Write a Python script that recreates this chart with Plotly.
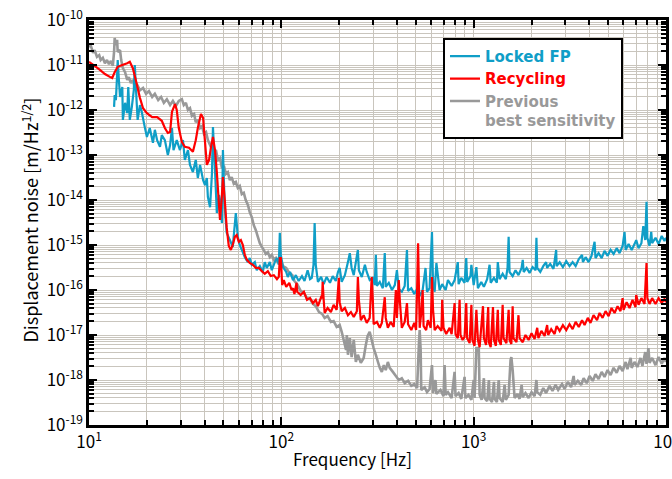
import numpy as np
import plotly.graph_objects as go

# ---------------- data (frequency in Hz, amplitude given as log10 of m/Hz^1/2) ----------------
locked_fp_freq = [13.5, 13.6, 13.8, 14.0, 14.1, 14.3, 14.5, 14.9, 15.0, 15.4, 15.8, 16.0, 16.3, 16.7, 17.1, 17.3,
                  17.7, 17.9, 18.4, 18.8, 19.5, 20.0, 20.7, 21.5, 22.0, 22.6, 23.4, 23.9, 24.8, 25.7, 26.4, 27.0,
                  27.5, 28.6, 29.7, 30.8, 31.5, 32.7, 33.5, 34.7, 35.9, 36.8, 37.8, 39.2, 40.1, 41.0, 41.5, 42.6,
                  43.6, 44.1, 45.2, 46.2, 47.4, 48.0, 49.1, 49.7, 50.8, 52.0, 54.0, 55.9, 58.0, 59.4, 60.8, 62.3,
                  64.6, 67.0, 68.5, 70.2, 72.8, 74.5, 77.3, 80.1, 82.0, 84.0, 87.1, 89.2, 92.5, 94.9, 97.0, 98.2,
                  99.4, 102, 106, 108, 111, 115, 119, 123, 128, 132, 137, 141, 144, 147, 149, 151, 155, 161, 166,
                  172, 179, 185, 192, 197, 201, 206, 214, 222, 227, 232, 238, 244, 250, 253, 262, 272, 278, 288,
                  299, 306, 310, 314, 325, 337, 345, 349, 362, 376, 389, 399, 408, 423, 438, 450, 456, 474, 491,
                  508, 524, 543, 562, 572, 590, 607, 615, 627, 640, 665, 686, 715, 735, 768, 796, 827, 835, 862,
                  897, 915, 925, 962, 973, 1000, 1033, 1052, 1095, 1130, 1175, 1210, 1226, 1275, 1320, 1335, 1364,
                  1415, 1470, 1500, 1520, 1537, 1595, 1650, 1710, 1775, 1800, 1820, 1885, 1953, 2025, 2100, 2120,
                  2140, 2220, 2300, 2380, 2410, 2500, 2600, 2685, 2700, 2800, 2910, 3030, 3150, 3270, 3390, 3520,
                  3660, 3700, 3820, 3960, 4100, 4253, 4300, 4460, 4630, 4790, 4970, 5150, 5340, 5540, 5735, 5950,
                  6089, 6170, 6390, 6630, 6860, 7000, 7200, 7450, 7620, 7800, 7920, 8000, 8211, 8380, 8470, 8820,
                  9150, 9500, 9820, 10000]
locked_fp_log = [-11.93, -11.67, -11.78, -11.22, -10.89, -11.33, -11.71, -11.49, -12.22, -11.84, -12.07, -11.49,
                 -12.22, -11.93, -11.56, -11.00, -11.84, -12.22, -11.89, -12.04, -12.38, -12.60, -12.40, -12.73,
                 -12.44, -12.67, -12.82, -12.56, -12.67, -13.00, -12.78, -12.40, -12.89, -12.67, -12.89, -12.67,
                 -13.11, -12.89, -13.22, -13.38, -13.11, -13.51, -13.22, -13.56, -13.67, -13.51, -13.93, -14.16,
                 -13.40, -12.38, -13.33, -14.29, -13.89, -14.00, -14.51, -12.89, -14.16, -14.73, -14.89, -15.04,
                 -14.29, -14.82, -15.00, -15.11, -15.27, -15.38, -15.29, -15.44, -15.38, -15.56, -15.47, -15.60,
                 -15.38, -15.51, -15.38, -15.56, -15.38, -15.29, -15.44, -14.73, -15.22, -15.49, -15.60, -15.71,
                 -15.60, -15.78, -15.67, -15.80, -15.69, -15.80, -15.56, -15.76, -15.73, -15.44, -14.51, -15.44,
                 -15.82, -15.71, -15.87, -15.71, -15.84, -15.69, -15.80, -15.60, -15.51, -15.82, -15.67, -15.38,
                 -15.18, -15.51, -15.67, -15.38, -15.11, -15.56, -15.71, -15.44, -15.60, -15.78, -15.73, -15.89,
                 -15.22, -15.91, -15.82, -15.96, -15.18, -15.93, -15.84, -16.00, -15.89, -15.56, -15.98, -16.04,
                 -15.91, -15.11, -16.02, -15.96, -16.09, -15.98, -16.13, -16.00, -15.51, -16.04, -15.96, -14.71,
                 -15.89, -16.04, -15.40, -16.00, -15.87, -16.00, -15.78, -15.91, -15.78, -15.38, -15.87, -15.73,
                 -15.84, -15.29, -15.82, -15.69, -15.44, -15.89, -15.49, -15.96, -15.82, -15.93, -15.76, -15.44,
                 -15.84, -15.73, -15.84, -15.38, -15.76, -15.64, -15.76, -15.51, -14.82, -15.60, -15.69, -15.56,
                 -15.67, -15.51, -15.33, -15.60, -15.51, -15.62, -15.49, -15.56, -14.84, -15.51, -15.60, -15.47,
                 -15.38, -15.51, -15.42, -15.53, -15.11, -15.47, -15.38, -15.49, -15.36, -15.47, -15.38, -15.47,
                 -15.31, -15.22, -15.38, -15.27, -15.38, -15.24, -14.93, -15.29, -15.18, -15.29, -15.13, -15.24,
                 -15.11, -15.20, -15.07, -15.18, -15.02, -14.71, -15.11, -14.98, -15.11, -14.98, -14.89, -15.07,
                 -14.96, -14.58, -14.89, -14.04, -14.84, -15.02, -14.71, -14.96, -14.84, -14.98, -14.80, -14.91,
                 -14.84]

recycling_freq = [10, 10.7, 11.4, 12.1, 12.9, 13.2, 13.6, 14.1, 14.9, 15.8, 16.3, 16.9, 17.5, 18.4, 19.1, 20.0,
                  21.3, 22.6, 23.9, 24.8, 25.7, 26.4, 27.0, 28.0, 28.6, 29.3, 30.4, 31.5, 33.1, 34.7, 35.9, 36.8,
                  38.2, 39.2, 40.1, 41.0, 42.1, 43.1, 44.1, 45.2, 46.2, 47.4, 48.0, 49.1, 49.7, 50.8, 52.0, 53.3,
                  54.6, 55.9, 57.3, 58.6, 60.1, 61.6, 63.1, 64.6, 66.2, 68.5, 71.1, 73.7, 76.4, 79.2, 82.0, 85.1,
                  88.1, 91.4, 94.9, 97.0, 98.2, 99.4, 101, 103, 106, 110, 113, 115, 117, 120, 121, 126, 131, 136,
                  141, 146, 151, 155, 161, 163, 164, 166, 168, 174, 181, 187, 194, 199, 201, 206, 214, 222, 230,
                  238, 247, 250, 253, 259, 268, 278, 288, 295, 299, 302, 314, 325, 333, 345, 349, 358, 370, 384,
                  394, 399, 408, 413, 423, 438, 450, 456, 474, 491, 502, 508, 514, 519, 524, 534, 543, 549, 566,
                  578, 598, 607, 615, 627, 650, 680, 686, 697, 720, 750, 768, 796, 805, 827, 845, 854, 876, 897,
                  915, 925, 953, 973, 985, 1011, 1033, 1052, 1074, 1118, 1130, 1160, 1190, 1200, 1226, 1260, 1275,
                  1305, 1335, 1350, 1385, 1415, 1430, 1480, 1520, 1537, 1570, 1595, 1610, 1670, 1710, 1733, 1800,
                  1860, 1930, 2000, 2074, 2140, 2170, 2250, 2338, 2410, 2440, 2530, 2635, 2700, 2800, 2910, 3030,
                  3150, 3270, 3390, 3520, 3660, 3773, 3920, 4050, 4200, 4380, 4515, 4680, 4850, 5030, 5210, 5402,
                  5600, 5800, 5950, 6020, 6240, 6464, 6700, 6940, 7000, 7200, 7450, 7734, 7920, 8000, 8211, 8470,
                  8820, 9150, 9500, 9820, 10000]
recycling_log = [-10.93, -11.02, -11.11, -11.20, -11.27, -11.29, -11.16, -11.04, -11.00, -10.96, -10.93, -11.07,
                 -11.33, -11.73, -11.96, -12.07, -12.16, -12.16, -12.24, -12.40, -12.51, -12.49, -12.04, -11.87,
                 -12.00, -12.40, -12.71, -12.82, -12.84, -12.93, -12.67, -12.40, -12.09, -12.18, -12.71, -13.22,
                 -13.11, -12.82, -12.60, -12.89, -13.38, -14.11, -14.44, -13.89, -13.49, -14.00, -14.62, -15.02,
                 -15.11, -15.00, -14.82, -14.78, -14.93, -14.89, -15.00, -15.22, -15.33, -15.40, -15.44, -15.51,
                 -15.51, -15.58, -15.64, -15.58, -15.69, -15.67, -15.76, -15.71, -15.29, -15.29, -15.89, -15.78,
                 -15.93, -15.84, -16.00, -15.96, -16.09, -15.84, -16.04, -16.11, -16.04, -16.22, -16.18, -16.29,
                 -16.22, -16.36, -16.16, -16.18, -15.82, -16.22, -16.51, -16.40, -16.49, -16.33, -16.44, -15.73,
                 -16.27, -16.47, -16.40, -16.56, -16.49, -16.60, -16.47, -15.71, -16.22, -16.67, -16.56, -16.73,
                 -16.62, -15.71, -16.22, -16.76, -16.71, -16.84, -16.73, -16.16, -16.62, -16.84, -16.71, -16.82,
                 -16.00, -16.62, -15.78, -16.22, -16.84, -16.71, -16.29, -16.76, -16.89, -16.73, -16.89, -16.00,
                 -14.96, -15.89, -16.84, -16.51, -16.00, -16.80, -16.89, -16.67, -16.84, -15.71, -16.44, -16.89,
                 -16.80, -16.91, -16.22, -16.84, -16.98, -16.84, -16.98, -16.29, -16.98, -17.07, -16.22, -17.00,
                 -17.11, -17.04, -16.29, -17.07, -17.18, -16.33, -17.11, -17.24, -16.44, -17.11, -17.27, -16.36,
                 -17.07, -17.22, -16.38, -17.16, -17.27, -16.38, -17.11, -17.24, -16.44, -17.11, -17.22, -16.33,
                 -17.07, -17.18, -16.44, -17.11, -17.20, -16.36, -17.07, -17.16, -16.56, -17.07, -17.16, -17.00,
                 -17.11, -16.96, -17.09, -16.84, -17.07, -16.91, -17.02, -16.78, -17.00, -16.87, -16.98, -16.80,
                 -16.91, -16.78, -16.89, -16.76, -16.87, -16.71, -16.82, -16.67, -16.78, -16.62, -16.73, -16.56,
                 -16.67, -16.51, -16.62, -16.47, -16.58, -16.40, -16.51, -16.36, -16.47, -16.18, -16.44, -16.27,
                 -16.40, -16.22, -16.38, -16.11, -16.33, -16.18, -16.31, -15.40, -16.18, -16.31, -16.18, -16.31,
                 -16.18, -16.29, -16.20, -16.27]

previous_freq = [10, 10.2, 10.5, 10.7, 11.0, 11.3, 11.5, 11.8, 12.1, 12.4, 12.7, 13.0, 13.3, 13.5, 13.6, 13.8,
                 14.0, 14.1, 14.5, 14.7, 15.0, 15.4, 15.8, 16.1, 16.5, 16.9, 17.3, 17.7, 18.4, 19.1, 19.8, 20.5,
                 21.3, 22.0, 22.9, 23.7, 24.5, 25.4, 26.4, 27.3, 28.3, 29.3, 30.4, 31.1, 31.9, 32.7, 33.5, 34.3,
                 35.2, 35.9, 36.8, 37.8, 38.7, 39.6, 40.6, 41.5, 42.6, 43.6, 44.7, 45.7, 46.8, 48.0, 49.1, 50.3,
                 51.5, 52.7, 54.0, 55.2, 56.6, 58.0, 59.4, 60.8, 62.3, 63.8, 65.3, 67.0, 68.5, 70.2, 71.9, 73.7,
                 75.5, 77.3, 79.2, 81.0, 83.0, 85.1, 87.1, 89.2, 91.4, 93.7, 95.9, 98.2, 102, 106, 110, 114, 117,
                 121, 126, 131, 136, 141, 146, 151, 157, 163, 168, 174, 181, 187, 194, 201, 206, 211, 217, 219,
                 222, 227, 232, 238, 244, 250, 259, 268, 275, 281, 288, 295, 302, 310, 318, 325, 333, 341, 349,
                 358, 366, 380, 394, 408, 423, 438, 456, 474, 491, 508, 519, 524, 530, 534, 556, 572, 590, 607,
                 615, 633, 640, 672, 697, 706, 715, 735, 768, 796, 805, 835, 862, 897, 905, 940, 973, 1000, 1011,
                 1033, 1063, 1074, 1100, 1130, 1140, 1175, 1200, 1210, 1245, 1275, 1285, 1320, 1350, 1364, 1415,
                 1448, 1470, 1520, 1555, 1570, 1595, 1632, 1690, 1733, 1775, 1800, 1860, 1930, 2000, 2074, 2120,
                 2140, 2220, 2300, 2380, 2482, 2570, 2665, 2750, 2880, 2970, 3090, 3210, 3310, 3347, 3480, 3620,
                 3730, 3870, 4006, 4160, 4300, 4460, 4630, 4790, 4970, 5150, 5340, 5540, 5735, 5950, 6170, 6300,
                 6550, 6630, 6860, 7100, 7370, 7540, 7800, 7920, 8100, 8211, 8470, 8820, 9150, 9500, 9820, 10000]
previous_log = [-10.60, -10.56, -10.73, -10.67, -10.82, -10.78, -10.89, -10.84, -10.96, -10.89, -10.98, -10.91,
                -11.02, -10.71, -10.40, -10.56, -10.44, -10.71, -10.67, -10.89, -11.07, -11.16, -11.33, -11.27,
                -11.40, -11.33, -11.49, -11.42, -11.56, -11.51, -11.64, -11.58, -11.71, -11.64, -11.78, -11.71,
                -11.84, -11.76, -11.89, -11.80, -11.91, -11.80, -11.76, -11.89, -11.84, -12.00, -11.96, -12.13,
                -12.09, -12.27, -12.22, -12.40, -12.36, -12.53, -12.49, -12.67, -12.78, -12.73, -12.93, -12.89,
                -13.11, -13.07, -13.29, -13.24, -13.42, -13.38, -13.56, -13.49, -13.64, -13.60, -13.73, -13.69,
                -13.87, -13.84, -14.00, -14.11, -14.27, -14.38, -14.56, -14.67, -14.82, -14.96, -15.04, -15.11,
                -15.20, -15.16, -15.27, -15.22, -15.33, -15.29, -15.40, -15.29, -15.47, -15.51, -15.62, -15.67,
                -15.80, -15.87, -16.02, -16.07, -16.18, -16.20, -16.31, -16.36, -16.49, -16.53, -16.62, -16.58,
                -16.71, -16.69, -16.82, -16.78, -16.93, -17.11, -17.33, -17.00, -17.44, -17.07, -17.49, -17.11,
                -17.60, -17.44, -17.62, -17.51, -17.22, -17.02, -16.93, -17.11, -17.29, -17.44, -17.60, -17.73,
                -17.82, -17.67, -17.78, -17.60, -17.73, -17.82, -17.91, -18.00, -17.96, -18.07, -18.02, -18.13,
                -18.09, -18.18, -17.22, -16.89, -17.33, -18.22, -18.16, -18.27, -18.20, -17.67, -18.29, -18.00,
                -18.31, -18.22, -18.36, -17.67, -18.33, -18.27, -18.40, -17.82, -18.36, -18.29, -18.42, -17.93,
                -18.40, -18.33, -18.44, -18.00, -18.40, -17.29, -17.29, -18.33, -18.44, -17.96, -18.40, -18.47,
                -18.00, -18.42, -18.49, -18.04, -18.42, -18.49, -18.00, -18.40, -18.49, -18.11, -18.44, -18.33,
                -17.56, -17.49, -17.78, -18.40, -18.31, -18.42, -18.11, -18.38, -18.29, -18.40, -18.27, -18.36,
                -18.00, -18.27, -18.33, -18.18, -18.29, -18.13, -18.24, -18.11, -18.22, -18.09, -18.20, -18.04,
                -18.16, -17.91, -18.11, -18.02, -18.11, -17.96, -18.07, -17.91, -18.02, -17.87, -17.98, -17.82,
                -17.93, -17.78, -17.89, -17.73, -17.84, -17.69, -17.80, -17.60, -17.76, -17.51, -17.73, -17.60,
                -17.71, -17.51, -17.69, -17.38, -17.64, -17.29, -17.62, -17.51, -17.67, -17.49, -17.64, -17.51,
                -17.60]

series_names = ["Locked FP", "Recycling", "Previous<br>best sensitivity"]
series_colors = ["#0f9ec7", "#ff0000", "#999999"]

x_tick_vals = [1e1, 1e2, 1e3, 1e4]
x_tick_text = ["10<sup>1</sup>", "10<sup>2</sup>", "10<sup>3</sup>", "10<sup>4</sup>"]
y_tick_vals = [10.0 ** e for e in range(-19, -9)]
y_tick_text = ["10<sup>%d</sup>" % e for e in range(-19, -9)]

# ---------------- figure ----------------
W, H = 672, 479
ML, MR, MT, MB = 89, 6, 20, 54
GRID = "#c9c5bd"
TICKFONT = "Noto Sans CJK JP"

fig = go.Figure()
data = [
    (previous_freq, previous_log, 2, 2.6, 3),
    (locked_fp_freq, locked_fp_log, 0, 2.2, 1),
    (recycling_freq, recycling_log, 1, 2.2, 2),
]
for fr, lg, idx, lw, rank in data:
    col = series_colors[idx]
    fig.add_trace(go.Scatter(
        x=fr, y=10.0 ** np.array(lg), mode="lines",
        line=dict(color=col, width=lw, simplify=False),
        name="<span style='color:%s'><b>%s</b></span>" % (col, series_names[idx].replace("<br>", "</b><br><b>")),
        legendrank=rank,
    ))

minor_x = [m * 10.0 ** d for d in range(1, 4) for m in range(2, 10)]
minor_y = [m * 10.0 ** d for d in range(-19, -10) for m in range(2, 10)]

axis_common = dict(
    type="log", showline=True, linecolor="black", linewidth=2.5, mirror="allticks",
    ticks="inside", ticklen=8, tickwidth=2, tickcolor="black",
    showgrid=True, gridcolor=GRID, gridwidth=1, zeroline=False,
    tickfont=dict(family=TICKFONT, size=17, color="black"),
    ticklabeloverflow="allow",
)
fig.update_xaxes(
    **axis_common, range=[1, 4], tickmode="array", tickvals=x_tick_vals, ticktext=x_tick_text,
    minor=dict(tickmode="array", tickvals=minor_x, ticks="inside", ticklen=5, tickwidth=1.5,
               tickcolor="black", showgrid=True, gridcolor=GRID, gridwidth=1),
)
fig.update_yaxes(
    **axis_common, range=[-19, -10], tickmode="array", tickvals=y_tick_vals, ticktext=y_tick_text,
    minor=dict(tickmode="array", tickvals=minor_y, ticks="inside", ticklen=5, tickwidth=1.5,
               tickcolor="black", showgrid=True, gridcolor=GRID, gridwidth=1),
)

fig.update_layout(
    width=W, height=H,
    margin=dict(l=ML, r=MR, t=MT, b=MB, autoexpand=False),
    paper_bgcolor="white", plot_bgcolor="white",
    showlegend=True,
    legend=dict(
        x=0.6135, y=0.956, xanchor="left", yanchor="top",
        bgcolor="white", bordercolor="black", borderwidth=2,
        font=dict(family="DejaVu Sans", size=15, color="black"),
        valign="top", itemwidth=30,
    ),
    annotations=[
        dict(text="Frequency [Hz]", xref="paper", yref="paper", x=0.456, y=-0.082,
             xanchor="center", yanchor="middle", showarrow=False,
             font=dict(family=TICKFONT, size=17, color="black")),
        dict(text="Displacement noise [m/Hz<sup>1/2</sup>]", xref="paper", yref="paper",
             x=-0.102, y=0.505, xanchor="center", yanchor="middle", textangle=-90, showarrow=False,
             font=dict(family=TICKFONT, size=18, color="black")),
    ],
)

fig.write_html("out.html", config={"displayModeBar": False},
               post_script="document.body.style.margin='0';document.body.style.padding='0';")
